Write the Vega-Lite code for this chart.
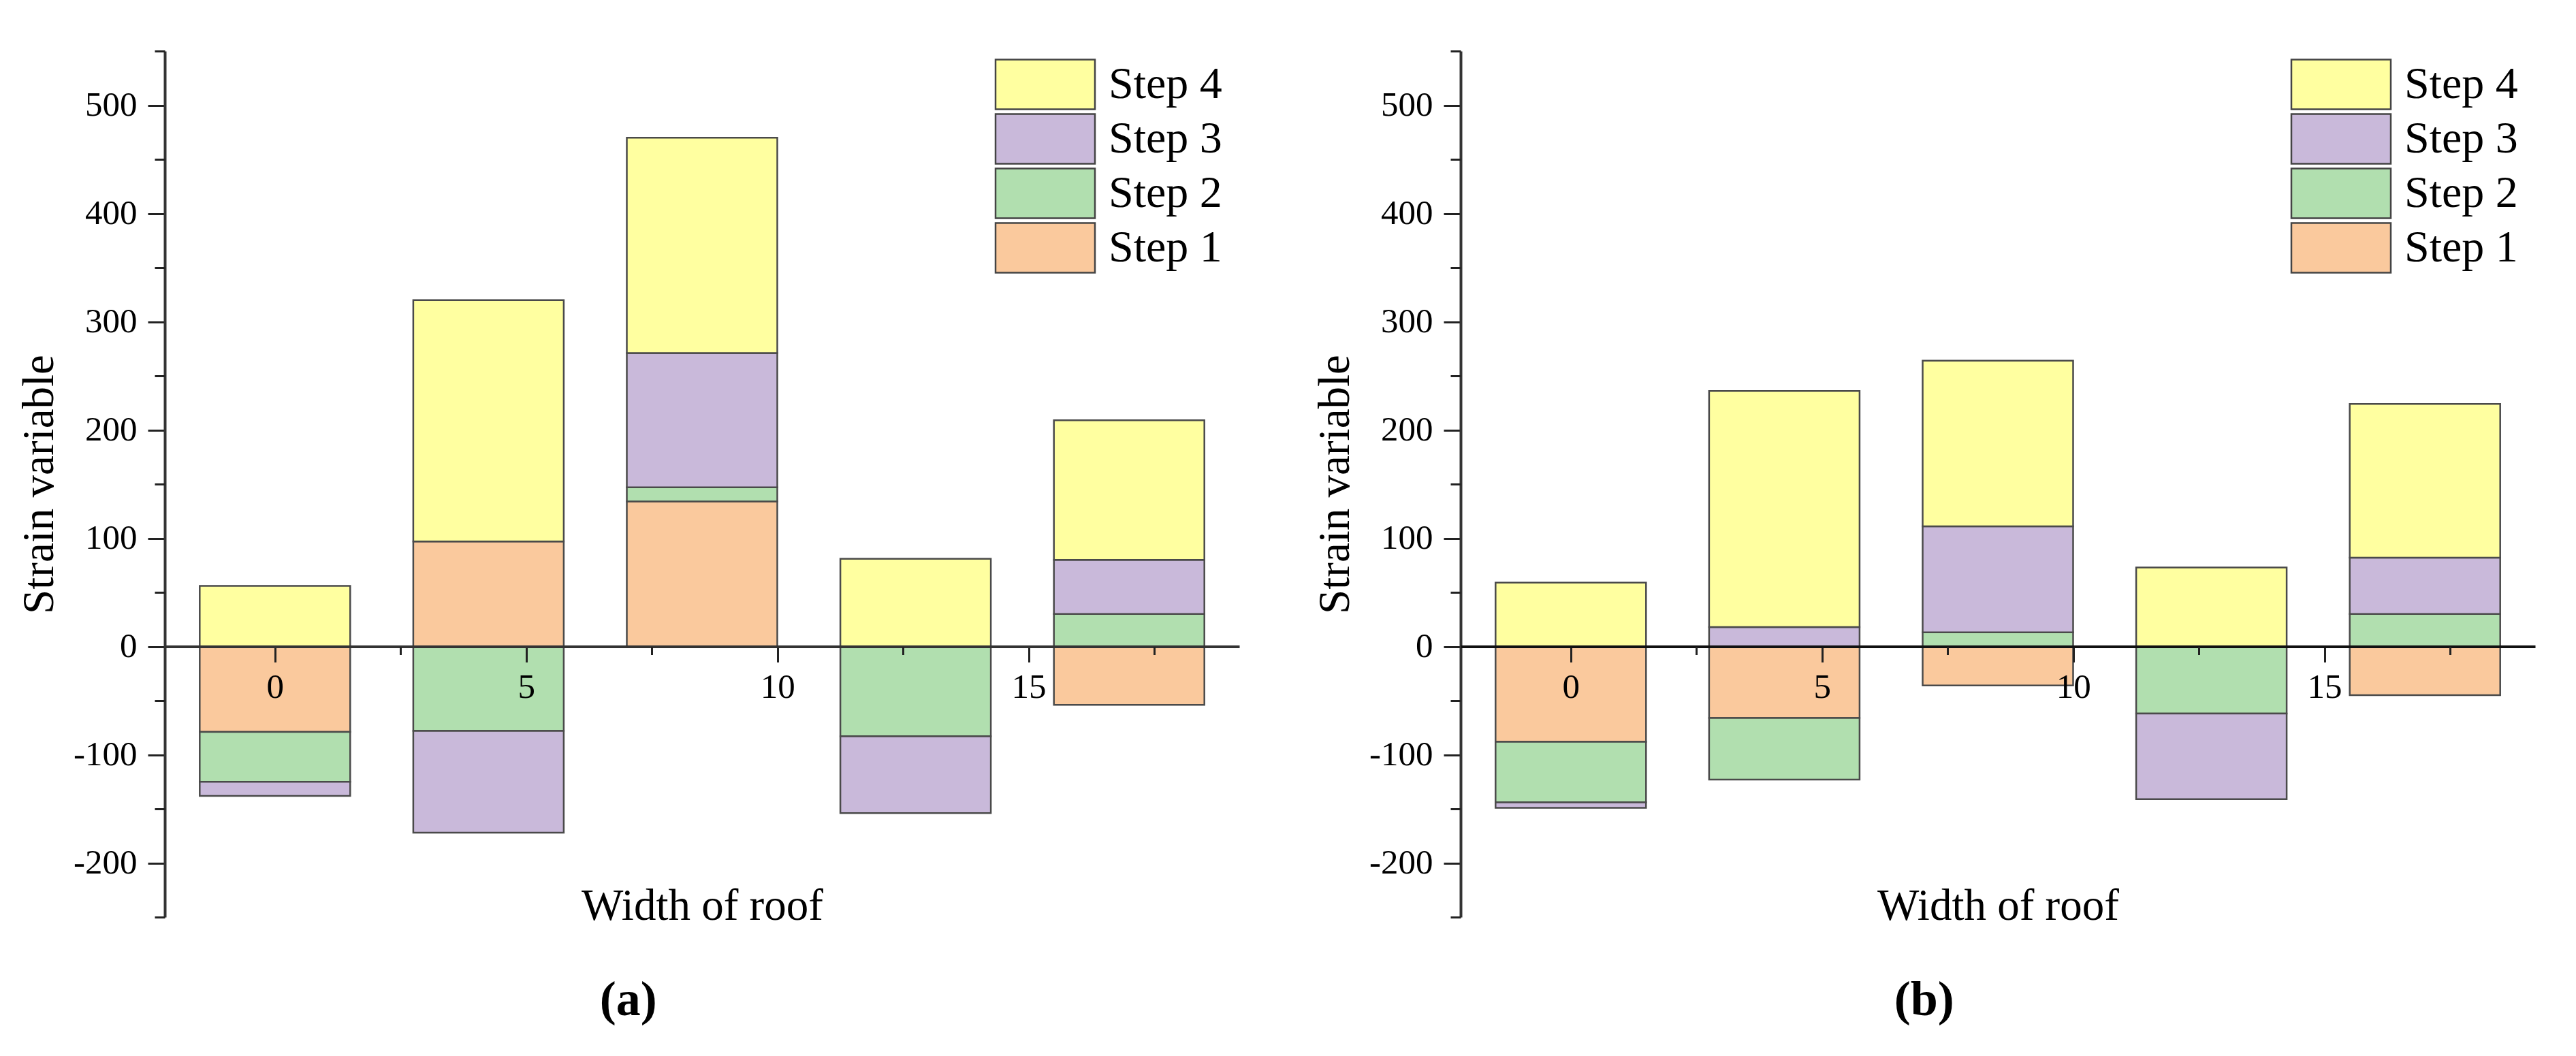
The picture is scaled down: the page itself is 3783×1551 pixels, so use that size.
{
  "$schema": "https://vega.github.io/schema/vega-lite/v6.json",
  "background": "white",
  "padding": {"left": 25, "top": 73, "right": 10, "bottom": 10},
  "config": {
    "view": {"stroke": null},
    "font": "Liberation Serif"
  },
  "datasets": {
    "a": [
      {"x": 0, "step": "Step 1", "s": 1, "value": -79},
      {"x": 0, "step": "Step 2", "s": 2, "value": -46},
      {"x": 0, "step": "Step 3", "s": 3, "value": -13},
      {"x": 0, "step": "Step 4", "s": 4, "value": 56},
      {"x": 4.25, "step": "Step 1", "s": 1, "value": 97},
      {"x": 4.25, "step": "Step 2", "s": 2, "value": -78},
      {"x": 4.25, "step": "Step 3", "s": 3, "value": -94},
      {"x": 4.25, "step": "Step 4", "s": 4, "value": 223},
      {"x": 8.5, "step": "Step 1", "s": 1, "value": 134},
      {"x": 8.5, "step": "Step 2", "s": 2, "value": 13},
      {"x": 8.5, "step": "Step 3", "s": 3, "value": 124},
      {"x": 8.5, "step": "Step 4", "s": 4, "value": 199},
      {"x": 12.75, "step": "Step 2", "s": 2, "value": -83},
      {"x": 12.75, "step": "Step 3", "s": 3, "value": -71},
      {"x": 12.75, "step": "Step 4", "s": 4, "value": 81},
      {"x": 17, "step": "Step 1", "s": 1, "value": -54},
      {"x": 17, "step": "Step 2", "s": 2, "value": 30},
      {"x": 17, "step": "Step 3", "s": 3, "value": 50},
      {"x": 17, "step": "Step 4", "s": 4, "value": 129}
    ],
    "b": [
      {"x": 0, "step": "Step 1", "s": 1, "value": -88},
      {"x": 0, "step": "Step 2", "s": 2, "value": -56},
      {"x": 0, "step": "Step 3", "s": 3, "value": -5},
      {"x": 0, "step": "Step 4", "s": 4, "value": 59},
      {"x": 4.25, "step": "Step 1", "s": 1, "value": -66},
      {"x": 4.25, "step": "Step 2", "s": 2, "value": -57},
      {"x": 4.25, "step": "Step 3", "s": 3, "value": 18},
      {"x": 4.25, "step": "Step 4", "s": 4, "value": 218},
      {"x": 8.5, "step": "Step 1", "s": 1, "value": -36},
      {"x": 8.5, "step": "Step 2", "s": 2, "value": 13},
      {"x": 8.5, "step": "Step 3", "s": 3, "value": 98},
      {"x": 8.5, "step": "Step 4", "s": 4, "value": 153},
      {"x": 12.75, "step": "Step 2", "s": 2, "value": -62},
      {"x": 12.75, "step": "Step 3", "s": 3, "value": -79},
      {"x": 12.75, "step": "Step 4", "s": 4, "value": 73},
      {"x": 17, "step": "Step 1", "s": 1, "value": -45},
      {"x": 17, "step": "Step 2", "s": 2, "value": 30},
      {"x": 17, "step": "Step 3", "s": 3, "value": 52},
      {"x": 17, "step": "Step 4", "s": 4, "value": 142}
    ]
  },
  "spacing": 108,
  "resolve": {"legend": {"color": "independent"}, "scale": {"color": "independent"}},
  "hconcat": [
    {
      "width": 1578,
      "height": 1272,
      "data": {"name": "a"},
      "title": {"text": "(a)", "orient": "bottom", "anchor": "middle", "frame": "bounds", "font": "Liberation Serif", "fontSize": 72, "fontWeight": "bold", "offset": 70, "color": "#000"},
      "resolve": {"axis": {"x": "independent", "y": "independent"}},
      "layer": [
        {
          "mark": {"type": "bar", "width": 221, "stroke": "#4a4a4a", "strokeWidth": 2.5},
          "encoding": {
            "x": {"field": "x", "type": "quantitative",
              "scale": {"domain": [-2.125, 19.125], "nice": false, "zero": false},
              "axis": {"orient": "bottom", "values": [0, 5, 10, 15], "grid": false, "offset": -397.5, "zindex": 1,
                "domainColor": "#333", "domainWidth": 4, "tickColor": "#222", "tickWidth": 3, "tickSize": 23,
                "labelFont": "Liberation Serif", "labelFontSize": 51, "labelColor": "#000", "labelPadding": 12, "labelFlush": false,
                "title": "Width of roof", "titleFont": "Liberation Serif", "titleFontSize": 65, "titleFontWeight": "normal", "titleColor": "#000",
                "titleY": 401, "titleBaseline": "alphabetic"}},
            "y": {"field": "value", "type": "quantitative", "stack": "zero",
              "scale": {"domain": [-250, 550], "nice": false, "zero": false},
              "axis": {"orient": "left", "values": [-200, -100, 0, 100, 200, 300, 400, 500], "grid": false,
                "labelExpr": "datum.value < 0 ? '-' + abs(datum.value) : '' + datum.value",
                "domainColor": "#333", "domainWidth": 4, "tickColor": "#222", "tickWidth": 3, "tickSize": 25,
                "labelFont": "Liberation Serif", "labelFontSize": 51, "labelColor": "#000", "labelPadding": 16,
                "title": "Strain variable", "titleFont": "Liberation Serif", "titleFontSize": 65, "titleFontWeight": "normal", "titleColor": "#000", "titlePadding": 16}},
            "color": {"field": "step", "type": "nominal",
              "scale": {"domain": ["Step 4", "Step 3", "Step 2", "Step 1"], "range": ["#FFFFA0", "#C9B9DA", "#B1DFAF", "#FAC99D"]},
              "legend": {"title": null, "orient": "none", "legendX": 1255, "legendY": 11, "padding": 0,
                "symbolType": "M-2,-1H2V1H-2Z", "symbolSize": 5329, "symbolStrokeColor": "#444", "symbolStrokeWidth": 2.5, "symbolOpacity": 1,
                "labelFont": "Liberation Serif", "labelFontSize": 66, "labelColor": "#000", "labelOffset": 55, "rowPadding": -4, "labelLimit": 400}},
            "order": {"field": "s", "type": "quantitative", "sort": "ascending"}
          }
        },
        {
          "mark": {"type": "tick", "opacity": 0},
          "encoding": {
            "x": {"field": "x", "type": "quantitative",
              "axis": {"orient": "bottom", "values": [2.5, 7.5, 12.5, 17.5], "grid": false, "labels": false, "domain": false, "offset": -397.5, "zindex": 1,
                "tickColor": "#222", "tickWidth": 3, "tickSize": 12, "title": null}},
            "y": {"field": "value", "type": "quantitative",
              "axis": {"orient": "left", "values": [-250, -150, -50, 50, 150, 250, 350, 450, 550], "grid": false, "labels": false, "domain": false,
                "tickColor": "#222", "tickWidth": 3, "tickSize": 15, "title": null}}
          }
        }
      ]
    },
    {
      "width": 1578,
      "height": 1272,
      "data": {"name": "b"},
      "title": {"text": "(b)", "orient": "bottom", "anchor": "middle", "frame": "bounds", "font": "Liberation Serif", "fontSize": 72, "fontWeight": "bold", "offset": 70, "color": "#000"},
      "resolve": {"axis": {"x": "independent", "y": "independent"}},
      "layer": [
        {
          "mark": {"type": "bar", "width": 221, "stroke": "#4a4a4a", "strokeWidth": 2.5},
          "encoding": {
            "x": {"field": "x", "type": "quantitative",
              "scale": {"domain": [-2.125, 19.125], "nice": false, "zero": false},
              "axis": {"orient": "bottom", "values": [0, 5, 10, 15], "grid": false, "offset": -397.5, "zindex": 1,
                "domainColor": "#111", "domainWidth": 4, "tickColor": "#222", "tickWidth": 3, "tickSize": 23,
                "labelFont": "Liberation Serif", "labelFontSize": 51, "labelColor": "#000", "labelPadding": 12, "labelFlush": false,
                "title": "Width of roof", "titleFont": "Liberation Serif", "titleFontSize": 65, "titleFontWeight": "normal", "titleColor": "#000",
                "titleY": 401, "titleBaseline": "alphabetic"}},
            "y": {"field": "value", "type": "quantitative", "stack": "zero",
              "scale": {"domain": [-250, 550], "nice": false, "zero": false},
              "axis": {"orient": "left", "values": [-200, -100, 0, 100, 200, 300, 400, 500], "grid": false,
                "labelExpr": "datum.value < 0 ? '-' + abs(datum.value) : '' + datum.value",
                "domainColor": "#333", "domainWidth": 4, "tickColor": "#222", "tickWidth": 3, "tickSize": 25,
                "labelFont": "Liberation Serif", "labelFontSize": 51, "labelColor": "#000", "labelPadding": 16,
                "title": "Strain variable", "titleFont": "Liberation Serif", "titleFontSize": 65, "titleFontWeight": "normal", "titleColor": "#000", "titlePadding": 16}},
            "color": {"field": "step", "type": "nominal",
              "scale": {"domain": ["Step 4", "Step 3", "Step 2", "Step 1"], "range": ["#FFFFA0", "#C9B9DA", "#B1DFAF", "#FAC99D"]},
              "legend": {"title": null, "orient": "none", "legendX": 1255, "legendY": 11, "padding": 0,
                "symbolType": "M-2,-1H2V1H-2Z", "symbolSize": 5329, "symbolStrokeColor": "#444", "symbolStrokeWidth": 2.5, "symbolOpacity": 1,
                "labelFont": "Liberation Serif", "labelFontSize": 66, "labelColor": "#000", "labelOffset": 55, "rowPadding": -4, "labelLimit": 400}},
            "order": {"field": "s", "type": "quantitative", "sort": "ascending"}
          }
        },
        {
          "mark": {"type": "tick", "opacity": 0},
          "encoding": {
            "x": {"field": "x", "type": "quantitative",
              "axis": {"orient": "bottom", "values": [2.5, 7.5, 12.5, 17.5], "grid": false, "labels": false, "domain": false, "offset": -397.5, "zindex": 1,
                "tickColor": "#222", "tickWidth": 3, "tickSize": 12, "title": null}},
            "y": {"field": "value", "type": "quantitative",
              "axis": {"orient": "left", "values": [-250, -150, -50, 50, 150, 250, 350, 450, 550], "grid": false, "labels": false, "domain": false,
                "tickColor": "#222", "tickWidth": 3, "tickSize": 15, "title": null}}
          }
        }
      ]
    }
  ]
}
